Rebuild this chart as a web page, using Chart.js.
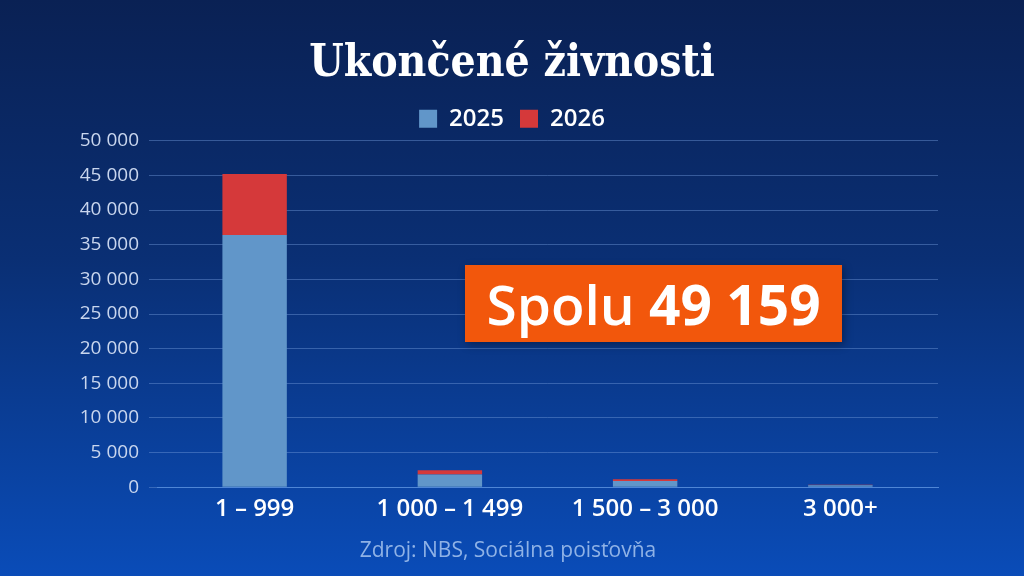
<!DOCTYPE html>
<html>
<head>
<meta charset="utf-8">
<script src="https://cdn.jsdelivr.net/npm/chart.js@4"></script>
<style>
    html, body { margin: 0; padding: 0; }
    body {
        width: 1024px;
        height: 576px;
        overflow: hidden;
        background: linear-gradient(180deg, #0a2154 0%, #0a2f74 45%, #0a4cb8 100%);
        font-family: 'Open Sans', sans-serif;
    }
    #wrap { position: relative; width: 1024px; height: 576px; }
    #total {
        position: absolute;
        left: 465px;
        top: 265px;
        width: 377px;
        height: 77px;
        background: #f2570c;
        color: #fff;
        font-size: 55px;
        font-weight: 600;
        line-height: 77px;
        text-align: center;
        box-shadow: 2px 3px 8px rgba(0, 0, 0, 0.35);
    }
    #total b { font-weight: 700; }
    #source {
        position: absolute;
        left: 0;
        width: 1016px;
        top: 535px;
        text-align: center;
        color: #8fb2e6;
        font-size: 21px;
        font-weight: 500;
    }
</style>
</head>
<body>
<div id="wrap">
    <canvas id="barStack" width="1024" height="576"></canvas>
    <div id="total">Spolu <b>49 159</b></div>
    <div id="source">Zdroj: NBS, Sociálna poisťovňa</div>
</div>
<script>
// Ukoncene zivnosti - stacked bars

const barLabels = [
    '1 – 999',
    '1 000 – 1 499',
    '1 500 – 3 000',
    '3 000+',
];

const data2025 = [36400, 1850, 900, 280];
const data2026 = [8800, 600, 250, 79];

const yTicks = [0, 5000, 10000, 15000, 20000, 25000, 30000, 35000, 40000, 45000, 50000];

const fmt = (v) => String(v).replace(/\B(?=(\d{3})+(?!\d))/g, ' ');

const barData = {
    labels: barLabels,
    datasets: [{
        label: '2025',
        data: data2025,
        backgroundColor: '#6196c9',
        barPercentage: 0.33,
        categoryPercentage: 1,
    },
    {
        label: '2026',
        data: data2026,
        backgroundColor: '#d5393a',
        barPercentage: 0.33,
        categoryPercentage: 1,
    }]
};

const barConfig = {
    type: 'bar',
    data: barData,
    options: {
        responsive: false,
        animation: false,
        layout: {
            padding: { left: 0, right: 0, top: 0, bottom: 44 }
        },
        plugins: {
            title: {
                display: true,
                text: 'Ukončené živnosti',
                color: '#ffffff',
                font: { family: 'DejaVu Serif Condensed', size: 44, weight: 'bold' },
                padding: { top: 38, bottom: 0 },
            },
            legend: {
                labels: {
                    color: '#ffffff',
                    boxWidth: 18,
                    boxHeight: 18,
                    padding: 16,
                    font: { family: 'Open Sans', size: 24, weight: '600' },
                },
            },
            tooltip: { enabled: false },
        },
        scales: {
            x: {
                stacked: true,
                grid: { display: false, drawTicks: false },
                border: { color: '#4f86d6', width: 1 },
                ticks: {
                    color: '#ffffff',
                    padding: 8,
                    font: { family: 'Open Sans', size: 24, weight: '600' },
                },
            },
            y: {
                stacked: true,
                min: 0,
                max: 50000,
                afterBuildTicks: (scale) => {
                    scale.ticks = yTicks.map(v => ({ value: v }));
                },
                afterFit: (scale) => { scale.width = 157; },
                grid: {
                    color: 'rgba(110, 150, 215, 0.45)',
                    tickLength: 8,
                },
                border: { display: false },
                ticks: {
                    color: '#c9d6ee',
                    padding: 10,
                    font: { family: 'Open Sans', size: 19, weight: '500' },
                    callback: (v) => fmt(v),
                },
            },
            yRight: {
                position: 'right',
                display: true,
                afterFit: (scale) => { scale.width = 86; },
                grid: { drawOnChartArea: false, drawTicks: false },
                border: { display: false },
                ticks: { display: false },
            },
        },
    },
};

const barChart = new Chart(
    document.getElementById('barStack'),
    barConfig
);
</script>
</body>
</html>
